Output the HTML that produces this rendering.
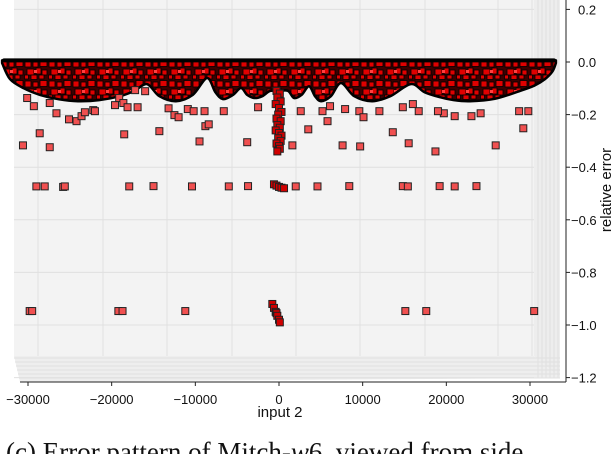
<!DOCTYPE html>
<html><head><meta charset="utf-8"><style>
body{margin:0;background:#fff;width:614px;height:454px;overflow:hidden;font-family:"Liberation Sans",sans-serif}
svg{display:block}
</style></head><body>
<svg id="chart" width="614" height="454" viewBox="0 0 614 454" xmlns="http://www.w3.org/2000/svg">
<defs>
<pattern id="sq" width="24" height="20" patternUnits="userSpaceOnUse">
<rect width="24" height="20" fill="#3a0000"/>
<g fill="#e00000" stroke="#000" stroke-width="0.8">
<rect x="1" y="1" width="6" height="6"/>
<rect x="9" y="2" width="5" height="5"/>
<rect x="16" y="0.5" width="7" height="6"/>
<rect x="3" y="9" width="7" height="6"/>
<rect x="12" y="8" width="5" height="6"/>
<rect x="18" y="10" width="5" height="5"/>
<rect x="0.5" y="15" width="4" height="4"/>
<rect x="7" y="15" width="6" height="4.5"/>
<rect x="15" y="15" width="5" height="4"/>
</g>
<rect x="10" y="10" width="3" height="3" fill="#ff4040"/>
</pattern>
</defs>
<g>
<rect x="14" y="0" width="520" height="356" fill="#f3f3f3"/>
<polygon points="534,0 560,-6 560,378 534,356" fill="#ededed"/>
<polygon points="14,356 534,356 560,378 20,382" fill="#eeeeee"/>
</g>
<g id="grid" stroke="#e0e0e0" stroke-width="1"></g>
<g id="band"></g>
<g id="pts"></g>
<g id="axes"></g>
<text x="280" y="417" font-size="15" text-anchor="middle" fill="#111">input 2</text>
<text transform="translate(611,190) rotate(-90)" font-size="15" text-anchor="middle" fill="#111">relative error</text>
<text x="6" y="461" font-family="'Liberation Serif',serif" font-size="27" fill="#111">(c) Error pattern of Mitch-<tspan font-style="italic">w</tspan>6, viewed from side</text>
</svg>
<script>
const xTicks=[-30000,-20000,-10000,0,10000,20000,30000];
const zTicks=[0.2,0.0,-0.2,-0.4,-0.6,-0.8,-1.0,-1.2];
const envX=[-33100,-32150,-30500,-28560,-26300,-24020,-21500,-19000,-17300,-15770,-14300,-12310,-10300,-8600,-7600,-6690,-5500,-4540,-3800,-2990,-2000,-1080,0,1080,1800,2700,3590,4300,5020,6200,7410,9000,11110,13300,15770,17400,19240,20900,22820,25800,28800,30500,31790,32700,33100];
const envZ=[-0.004,-0.065,-0.1,-0.125,-0.142,-0.149,-0.145,-0.13,-0.11,-0.084,-0.13,-0.149,-0.125,-0.061,-0.115,-0.141,-0.125,-0.099,-0.125,-0.137,-0.13,-0.11,-0.11,-0.11,-0.137,-0.125,-0.092,-0.13,-0.149,-0.13,-0.08,-0.13,-0.149,-0.13,-0.084,-0.115,-0.134,-0.145,-0.149,-0.14,-0.11,-0.09,-0.065,-0.035,-0.004];
const outX=[-30100,-29300,-27400,-28600,-30600,-27400,-26600,-25100,-24200,-23600,-23200,-22200,-22000,-19600,-19100,-18600,-18100,-17200,-16900,-16000,-13200,-12500,-12000,-10900,-10200,-8900,-8800,-8400,-6600,-2500,-3800,1600,2600,3500,5200,5800,6100,7600,7900,9600,10100,12000,13600,14800,16000,16700,19700,21000,23000,24100,25900,28700,29200,29800,-14300,-18500,-9500,9700,15500,18700,19000,
-29000,-28000,-25800,-25600,-17900,-15000,-10400,-6000,-3700,2000,4600,8400,14800,15400,19200,21000,23600,
-29800,-29500,-19200,-18700,-11200,15100,17600,30500];
const outZ=[-0.137,-0.168,-0.156,-0.271,-0.317,-0.324,-0.195,-0.218,-0.225,-0.206,-0.191,-0.183,-0.187,-0.164,-0.137,-0.156,-0.172,-0.107,-0.172,-0.111,-0.176,-0.202,-0.21,-0.179,-0.187,-0.187,-0.244,-0.237,-0.187,-0.172,-0.305,-0.317,-0.187,-0.256,-0.187,-0.225,-0.168,-0.317,-0.179,-0.187,-0.21,-0.187,-0.267,-0.172,-0.16,-0.187,-0.195,-0.206,-0.206,-0.195,-0.317,-0.187,-0.252,-0.187,-0.263,-0.275,-0.302,-0.321,-0.309,-0.34,-0.187,
-0.473,-0.473,-0.475,-0.473,-0.473,-0.472,-0.473,-0.473,-0.472,-0.473,-0.473,-0.472,-0.472,-0.473,-0.472,-0.473,-0.472,
-0.947,-0.947,-0.947,-0.947,-0.947,-0.947,-0.947,-0.947];
const spikeX=[-300,100,-200,200,-400,0,300,-100,-300,200,-200,100,-400,0,300,-100,200,-300,0,100,-200,-600,-300,0,300,600,-800,-600,-400,-300,-200,0,100];
const spikeZ=[-0.11,-0.12,-0.135,-0.15,-0.16,-0.175,-0.19,-0.2,-0.215,-0.225,-0.24,-0.25,-0.26,-0.27,-0.28,-0.29,-0.3,-0.31,-0.32,-0.33,-0.34,-0.465,-0.47,-0.475,-0.478,-0.48,-0.92,-0.935,-0.95,-0.955,-0.965,-0.98,-0.99];

const NS="http://www.w3.org/2000/svg";
const X=v=>279+v*251/30000;
const Z=v=>62-v*263;
function mk(tag,attrs,parent){const e=document.createElementNS(NS,tag);for(const k in attrs)e.setAttribute(k,attrs[k]);parent.appendChild(e);return e;}
const grid=document.getElementById('grid');
[38,103,167,232,296,360,425,498,532].forEach(gx=>{
 const l=mk('line',{x1:gx,y1:0,x2:gx,y2:356},grid);
 
 
});
zTicks.forEach(t=>{
 const l=mk('line',{x1:14,y1:Z(t),x2:534,y2:Z(t)},grid);
 
 
});
for(let i=0;i<6;i++){
 const l=mk('line',{x1:14+i,y1:358+i*4,x2:560,y2:358+i*4},grid);
 
 
 const r=mk('line',{x1:538+i*4,y1:-4,x2:538+i*4,y2:378},grid);
 
 
}
// band with smooth (Catmull-Rom) lower envelope
const band=document.getElementById('band');
const P=envX.map((x,i)=>[X(x),Z(envZ[i])]);
let d='M'+P[0][0].toFixed(1)+','+Z(0.006).toFixed(1)+' L'+P[0][0].toFixed(1)+','+P[0][1].toFixed(1);
for(let i=0;i<P.length-1;i++){
 const p0=P[Math.max(0,i-1)],p1=P[i],p2=P[i+1],p3=P[Math.min(P.length-1,i+2)];
 const c1=[p1[0]+(p2[0]-p0[0])/6,p1[1]+(p2[1]-p0[1])/6];
 const c2=[p2[0]-(p3[0]-p1[0])/6,p2[1]-(p3[1]-p1[1])/6];
 d+=' C'+c1[0].toFixed(1)+','+c1[1].toFixed(1)+' '+c2[0].toFixed(1)+','+c2[1].toFixed(1)+' '+p2[0].toFixed(1)+','+p2[1].toFixed(1);
}
d+=' L'+P[P.length-1][0].toFixed(1)+','+Z(0.006).toFixed(1)+' Z';
const bp=mk('path',{d:d,fill:'url(#sq)',stroke:'#000','stroke-width':2.5,'stroke-linejoin':'round'},band);


const tl=mk('line',{x1:X(envX[0])+2,y1:Z(0.006),x2:X(envX[envX.length-1])-2,y2:Z(0.006),stroke:'#000','stroke-width':4,'stroke-linecap':'round'},band);


// points
const pts=document.getElementById('pts');
function sq(x,z,fill,name){
 const r=mk('rect',{x:X(x)-3.5,y:Z(z)-3.5,width:7,height:7,fill:fill,stroke:'#222','stroke-width':1},pts);
 
 
}
for(let i=0;i<outX.length;i++)sq(outX[i],outZ[i],'#f05050','outlier-point');
for(let i=0;i<spikeX.length;i++)sq(spikeX[i],spikeZ[i],'#d00000','spike-point');
// axes
const ax=document.getElementById('axes');
const xl=mk('line',{x1:20,y1:382,x2:566,y2:382,stroke:'#222','stroke-width':1},ax);


const zl=mk('line',{x1:566,y1:0,x2:566,y2:382,stroke:'#222','stroke-width':1},ax);


xTicks.forEach(t=>{
 const tk=mk('line',{x1:X(t),y1:382,x2:X(t),y2:386,stroke:'#222'},ax);
 
 
 const tx=mk('text',{x:X(t),y:404,'font-size':13,'text-anchor':'middle',fill:'#111'},ax);
 
 
 tx.textContent=(t<0?'\u2212'+(-t):String(t));
});
zTicks.forEach(t=>{
 const tk=mk('line',{x1:566,y1:Z(t),x2:570,y2:Z(t),stroke:'#222'},ax);
 
 
 const tx=mk('text',{x:571,y:Z(t)+5,'font-size':13,fill:'#111'},ax);
 
 
 const s=Math.abs(t).toFixed(1);
 tx.textContent=(t<0?'\u2212':' ')+s;
 if(t>=0)tx.setAttribute('x',578);
});
</script>
</body></html>
